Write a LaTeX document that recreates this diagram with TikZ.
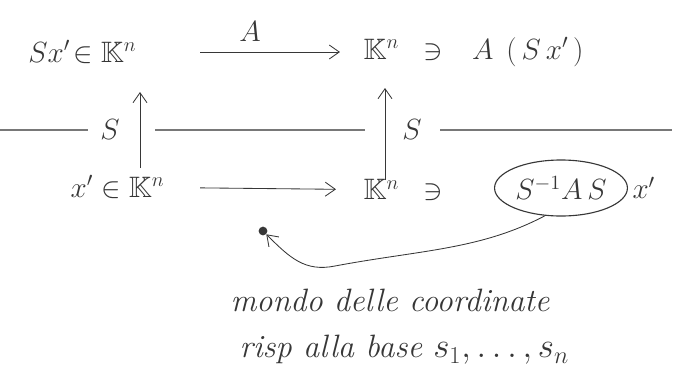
\documentclass[tikz,border=0pt]{standalone}
\usepackage{amsmath,amssymb}
\usepackage{tikz}
\usetikzlibrary{shapes.geometric,arrows.meta,positioning,calc}
\usepackage{xcolor}
\definecolor{pencil}{RGB}{55,55,55}
\definecolor{rulegray}{RGB}{120,120,120}
\tikzset{
  mathnode/.style={inner sep=1pt,text=pencil,font=\fontsize{21}{25}\selectfont},
  notenode/.style={inner sep=1pt,text=pencil,font=\fontsize{23}{27}\selectfont\itshape},
  circled/.style={draw=pencil,ellipse,thick,inner sep=1pt,minimum width=3.3cm,minimum height=1.4cm},
}

\begin{document}
\begin{tikzpicture}[
    x=0.025cm,y=-0.025cm,
    arrow/.style={-{Straight Barb[length=2.5mm,width=3.5mm]},semithick,pencil},
    divider/.style={rulegray,thick},
  ]
    \useasboundingbox (0,0) rectangle (680,384);
    % top row
    \node[mathnode,anchor=east] (tl) at (138,52) {$Sx'\!\in\mathbb{K}^n$};
    \node[mathnode,anchor=west] (tr) at (362,52) {$\mathbb{K}^n \;\;\ni\;\;\, A\;\,(\,S\,x'\,)$};
    \draw[arrow,shorten <=1.55cm,shorten >=0.55cm] (tl) -- node[mathnode,above=6pt]{$A$} (tr);
    % bottom row
    \node[mathnode,anchor=east] (bl) at (166,187) {$x'\in\mathbb{K}^n$};
    \node[mathnode,anchor=west] (br) at (362,190) {$\mathbb{K}^n \;\;\ni$};
    \node[mathnode,circled] (sas) at (561,188) {$S^{-1}A\,S$};
    \node[mathnode,right=2pt of sas] (xp) {$x'$};
    \draw[arrow,shorten <=0.85cm,shorten >=0.65cm] (bl) -- (br);
    % vertical maps
    \coordinate (lb) at (140,168);
    \coordinate (lt) at (140,92);
    \coordinate (rb) at (385,180);
    \coordinate (rt) at (385,88);
    \draw[arrow] (lb) -- (lt);
    \draw[arrow] (rb) -- (rt);
    \node[mathnode] (sl) at (110,130) {$S$};
    \node[mathnode] (sr) at (412,130) {$S$};
    % dividing line
    \coordinate (d0) at (0,130);
    \coordinate (d1) at (88,130);
    \coordinate (d2) at (155,130);
    \coordinate (d3) at (365,130);
    \coordinate (d4) at (440,130);
    \coordinate (d5) at (672,130);
    \draw[divider] (d0) -- (d1);
    \draw[divider] (d2) -- (d3);
    \draw[divider] (d4) -- (d5);
    % back to the coordinates
    \node[circle,fill=pencil,inner sep=2.2pt] (dot) at (263,231) {};
    \draw[arrow] (sas.240) .. controls (480,250) and (420,250) .. (335,266)
      .. controls (305,272) and (290,258) .. (dot);
    \node[notenode] (m1) at (390,300) {mondo delle coordinate};
    \node[notenode,anchor=west] (m2) at (238,350) {risp alla base $s_1,\dots,s_n$};
\end{tikzpicture}
\end{document}
